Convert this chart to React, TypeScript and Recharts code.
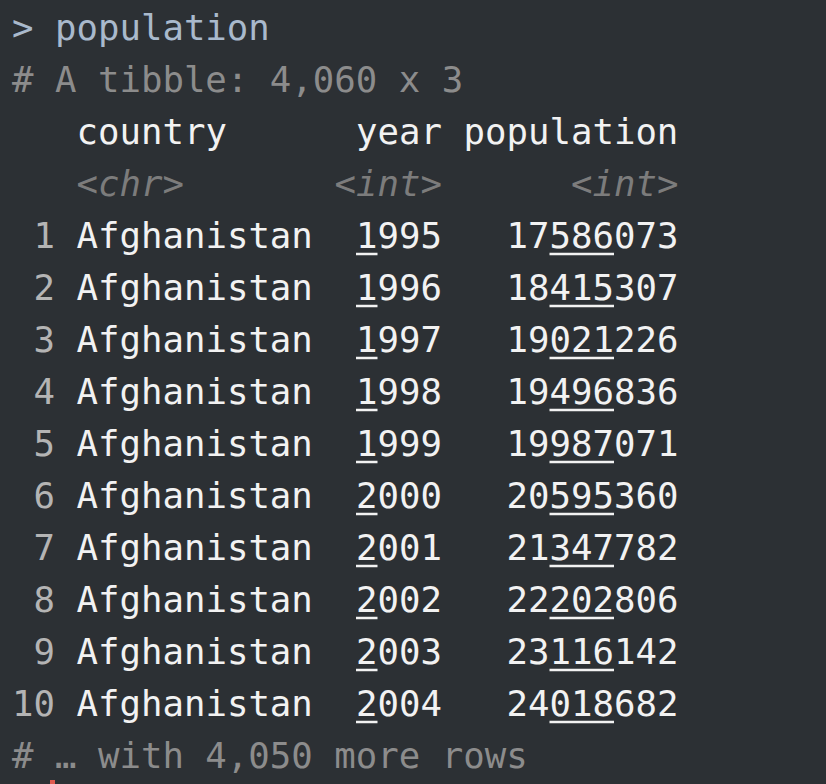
import React from "react";
import { ComposedChart, Customized } from "recharts";

const countries = Array(10).fill("Afghanistan");
const years = [1995, 1996, 1997, 1998, 1999, 2000, 2001, 2002, 2003, 2004];
const populations = [17586073, 18415307, 19021226, 19496836, 19987071, 20595360, 21347782, 22202806, 23116142, 24018682];
const headers = ["country", "year", "population"];
const types = ["<chr>", "<int>", "<int>"];

const CW = 21.5;
const X0 = 12;
const LH = 52;
const B0 = 40;
const FS = 35.7;
const FONT = "'DejaVu Sans Mono', monospace";
const cx = (c: number) => X0 + c * CW;
const by = (l: number) => B0 + l * LH;

const Under = ({ c0, n, l }: { c0: number; n: number; l: number }) => (
  <line x1={cx(c0)} x2={cx(c0 + n)} y1={by(l) + 6} y2={by(l) + 6} stroke="#f2f2f2" strokeWidth={2.5} />
);

const Console = () => (
  <g fontFamily={FONT} fontSize={FS}>
    <rect x={0} y={0} width={826} height={784} fill="#2c3034" />
    <text x={cx(0)} y={by(0)} fill="#a9b9cc">&gt; population</text>
    <text x={cx(0)} y={by(1)} fill="#8c8c8c">{"# A tibble: 4,060 x 3"}</text>
    <text x={cx(3)} y={by(2)} fill="#f2f2f2">{headers[0]}</text>
    <text x={cx(16)} y={by(2)} fill="#f2f2f2">{headers[1]}</text>
    <text x={cx(21)} y={by(2)} fill="#f2f2f2">{headers[2]}</text>
    <text x={cx(3)} y={by(3)} fill="#7c7c7c" fontStyle="italic">{types[0]}</text>
    <text x={cx(15)} y={by(3)} fill="#7c7c7c" fontStyle="italic">{types[1]}</text>
    <text x={cx(26)} y={by(3)} fill="#7c7c7c" fontStyle="italic">{types[2]}</text>
    {years.map((y, i) => {
      const l = 4 + i;
      const num = String(i + 1);
      return (
        <g key={i}>
          <text x={cx(2 - num.length)} y={by(l)} fill="#b4b4b4">{num}</text>
          <text x={cx(3)} y={by(l)} fill="#f2f2f2">{countries[i]}</text>
          <text x={cx(16)} y={by(l)} fill="#f2f2f2">{String(y)}</text>
          <text x={cx(23)} y={by(l)} fill="#f2f2f2">{String(populations[i])}</text>
          <Under c0={16} n={1} l={l} />
          <Under c0={25} n={3} l={l} />
        </g>
      );
    })}
    <text x={cx(0)} y={by(14)} fill="#8c8c8c">{"# … with 4,050 more rows"}</text>
    <rect x={50} y={780} width={5} height={4} fill="#e05a4f" />
  </g>
);

export default function App() {
  return (
    <div style={{ position: "fixed", top: 0, left: 0, width: 826, height: 784, background: "#2c3034" }}>
      <ComposedChart width={826} height={784} data={[{ v: 0 }]} margin={{ top: 0, right: 0, bottom: 0, left: 0 }}>
        <Customized component={Console} />
      </ComposedChart>
    </div>
  );
}
